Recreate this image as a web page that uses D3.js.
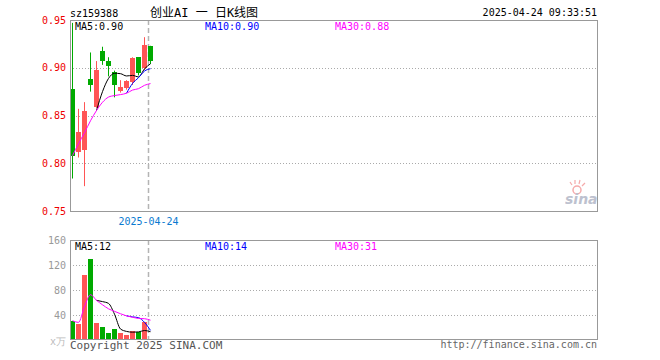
<!DOCTYPE html>
<html><head><meta charset="utf-8">
<script src="https://cdn.jsdelivr.net/npm/d3@7/dist/d3.min.js"></script>
<style>
html,body{margin:0;padding:0;background:#fff;}
svg{display:block;}
text{font-family:"DejaVu Sans Mono","Liberation Mono",monospace;font-size:10px;}
</style></head>
<body>
<svg id="c" width="660" height="360"></svg>
<script>
// ---- data ----
const dates = ["2025-04-07","2025-04-08","2025-04-09","2025-04-10","2025-04-11","2025-04-14","2025-04-15","2025-04-16","2025-04-17","2025-04-18","2025-04-21","2025-04-22","2025-04-23","2025-04-24"];
const openP  = [0.878,0.812,0.814,0.888,0.859,0.918,0.907,0.896,0.876,0.879,0.885,0.911,0.900,0.923];
const closeP = [0.808,0.833,0.855,0.882,0.898,0.907,0.902,0.882,0.880,0.886,0.910,0.894,0.924,0.907];
const highP  = [0.947,0.857,0.864,0.916,0.907,0.922,0.911,0.897,0.887,0.887,0.911,0.911,0.932,0.923];
const lowP   = [0.784,0.806,0.776,0.875,0.858,0.903,0.891,0.869,0.874,0.877,0.882,0.892,0.898,0.904];
const volume = [30.9,25.6,104,129.6,27.2,20.8,11.2,17.6,11.2,8.0,14.4,13.5,28.8,1.6];
const priceTicks = [0.95,0.90,0.85,0.80,0.75];
const volTicks = [160,120,80,40];
const priceMALabels = ["MA5:0.90","MA10:0.90","MA30:0.88"];
const volMALabels = ["MA5:12","MA10:14","MA30:31"];
const titleCode = "sz159388";
const titleName = "创业AI 一 日K线图";
const timeStamp = "2025-04-24 09:33:51";
const cursorDate = "2025-04-24";

// ---- layout ----
const L = 70, R = 597;
const pTop = 20, pBot = 211;
const vTop = 240, vBot = 340;
const step = 6, bw = 5;
const UP = "#ff5555", DOWN = "#00aa00", GRID = "#aaaaaa", BORDER = "#999999";
const maColors = ["#000000","#0000ff","#ff00ff"];

const svg = d3.select("#c");
const x = d3.scaleBand().domain(dates).range([L, L + step*dates.length - 1]).paddingInner(1/6).paddingOuter(0);
const xc = d => x(d) + bw/2;
const y = d3.scaleLinear().domain([0.75,0.95]).range([pBot,pTop]);
const yv = d3.scaleLinear().domain([0,160]).range([vBot,vTop]);

const data = dates.map((d,i)=>({d,o:openP[i],c:closeP[i],h:highP[i],l:lowP[i],v:volume[i]}));
const col = d => d.c >= d.o ? UP : DOWN;

function ma(arr,n,partial){
  return arr.map((v,i)=>{
    if(i < n-1 && !partial) return null;
    const s = arr.slice(Math.max(0,i-n+1), i+1);
    return d3.mean(s);
  });
}

// grids
function hgrid(scale, vals){
  svg.append("g").selectAll("line").data(vals).join("line")
    .attr("x1",L).attr("x2",R)
    .attr("y1",d=>Math.round(scale(d))+0.5).attr("y2",d=>Math.round(scale(d))+0.5)
    .attr("stroke",GRID).attr("stroke-dasharray","1,2");
}
hgrid(y,[0.90,0.85,0.80]);
hgrid(yv,[120,80,40]);

// cursor dashed line
const cx = x(cursorDate) + 0.5;
[[pTop,pBot],[vTop,vBot]].forEach(([a,b])=>{
  svg.append("line").attr("x1",cx).attr("x2",cx).attr("y1",a).attr("y2",b)
    .attr("stroke","#b4b4b4").attr("stroke-width",1.5).attr("stroke-dasharray","5,3");
});

// watermark
const wm = svg.append("g").attr("opacity",0.55);
wm.append("circle").attr("cx",577).attr("cy",190).attr("r",4).attr("fill","none").attr("stroke","#ee6666").attr("stroke-width",1.5);
wm.append("path").attr("d","M572,185 L570,182 M575,184 L575,180 M579,184 L580,180 M582,186 L585,183").attr("stroke","#ee6666").attr("stroke-width",1.2);
wm.append("text").attr("x",565).attr("y",204).attr("fill","#8890a8")
  .style("font-family","'DejaVu Sans',sans-serif").style("font-size","14px").style("font-style","italic").style("font-weight","bold").text("sina");

// candles
const cg = svg.append("g");
cg.selectAll("line").data(data).join("line")
  .attr("x1",d=>xc(d.d)).attr("x2",d=>xc(d.d))
  .attr("y1",d=>y(d.h)).attr("y2",d=>y(d.l))
  .attr("stroke",col).attr("stroke-width",1);
cg.selectAll("rect").data(data).join("rect")
  .attr("x",d=>x(d.d)).attr("width",x.bandwidth())
  .attr("y",d=>Math.round(y(Math.max(d.o,d.c))))
  .attr("height",d=>Math.max(1,Math.round(y(Math.min(d.o,d.c))) - Math.round(y(Math.max(d.o,d.c)))))
  .attr("fill",col);

// volume bars
svg.append("g").selectAll("rect").data(data).join("rect")
  .attr("x",d=>x(d.d)).attr("width",x.bandwidth())
  .attr("y",d=>Math.round(yv(d.v))).attr("height",d=>vBot - Math.round(yv(d.v)))
  .attr("fill",col);

// MA lines
function maLines(arr, scale){
  const sets = [ma(arr,5,false), ma(arr,10,false), ma(arr,30,true)];
  sets.forEach((s,k)=>{
    const line = d3.line().defined(v=>v!=null).x((v,i)=>xc(dates[i])).y(v=>scale(v)).curve(d3.curveMonotoneX);
    svg.append("path").datum(s).attr("d",line).attr("fill","none").attr("stroke",maColors[k]).attr("stroke-width",1);
  });
}
maLines(closeP, y);
maLines(volume, yv);

// borders
svg.append("rect").attr("x",L+0.5).attr("y",pTop+0.5).attr("width",R-L).attr("height",pBot-pTop)
  .attr("fill","none").attr("stroke",BORDER);
svg.append("rect").attr("x",L+0.5).attr("y",vTop+0.5).attr("width",R-L).attr("height",vBot-vTop-1)
  .attr("fill","none").attr("stroke",BORDER);

// axes
const ay = svg.append("g").attr("transform",`translate(${L},0)`)
  .call(d3.axisLeft(y).tickValues(priceTicks).tickFormat(d3.format(".2f")).tickSize(0).tickPadding(4));
ay.select(".domain").remove();
ay.selectAll("text").attr("fill","#ee0000").style("font-size","10px").style("font-family","'DejaVu Sans Mono',monospace");
const av = svg.append("g").attr("transform",`translate(${L},0)`)
  .call(d3.axisLeft(yv).tickValues(volTicks).tickSize(0).tickPadding(4));
av.select(".domain").remove();
av.selectAll("text").attr("fill","#999999").style("font-size","10px").style("font-family","'DejaVu Sans Mono',monospace");
svg.append("text").attr("x",66).attr("y",345).attr("text-anchor","end").attr("fill","#bbbbbb").text("x万");

// MA labels
const labX = [75,205,335];
priceMALabels.forEach((t,k)=>svg.append("text").attr("x",labX[k]).attr("y",30).attr("fill",maColors[k]).text(t));
volMALabels.forEach((t,k)=>svg.append("text").attr("x",labX[k]).attr("y",250).attr("fill",maColors[k]).text(t));

// titles
svg.append("text").attr("x",L).attr("y",17).attr("fill","#000").text(titleCode);
svg.append("text").attr("x",150).attr("y",17).attr("fill","#000")
  .style("font-family","'DejaVu Sans Mono','Noto Sans CJK SC',monospace").style("font-size","12px").text(titleName);
svg.append("text").attr("x",R).attr("y",16).attr("text-anchor","end").attr("fill","#000").text(timeStamp);

// date label
svg.append("text").attr("x",cx).attr("y",225).attr("text-anchor","middle").attr("fill","#0a7ad0").text(cursorDate);

// footer
svg.append("text").attr("x",L).attr("y",349).attr("fill","#555").style("font-size","11px").text("Copyright 2025 SINA.COM");
svg.append("text").attr("x",R).attr("y",348).attr("text-anchor","end").attr("fill","#666").text("http://finance.sina.com.cn");
</script>
</body></html>
